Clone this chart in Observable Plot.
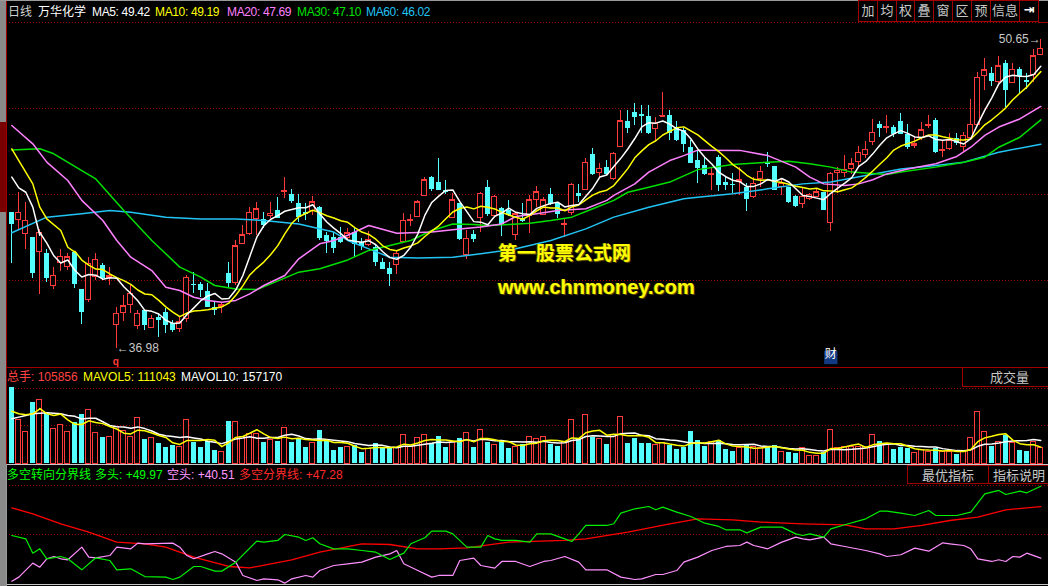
<!DOCTYPE html>
<html><head><meta charset="utf-8">
<script src="https://cdn.jsdelivr.net/npm/d3@7"></script>
<script src="https://cdn.jsdelivr.net/npm/@observablehq/plot@0.6"></script>
<style>
html,body{margin:0;padding:0;background:#000;overflow:hidden}
#wrap{position:relative;width:1048px;height:586px;background:#000;overflow:hidden;font-family:"Liberation Sans","Noto Sans CJK SC",sans-serif;font-size:12px}
#wrap svg{position:absolute;left:0}
.t{position:absolute;white-space:nowrap;line-height:14px;font-size:12px;font-family:"Liberation Sans","Noto Sans CJK SC",sans-serif}
.btn{position:absolute;border:1px solid #a00000;box-sizing:border-box;color:#c8c8c8;font-family:"Noto Sans CJK SC",sans-serif;font-size:13px;line-height:18px;text-align:center;white-space:nowrap;overflow:hidden}
.ln{position:absolute}
.wm{position:absolute;color:#ffff00;font-weight:bold;white-space:nowrap;text-shadow:1px 1px 0 #5a4a00,-1px 0 0 #5a4a00}
</style></head><body><div id="wrap"></div>
<script>
// ---------------- data ----------------
const openP = [42.99,42.68,42.06,41.91,41.25,41.18,39.76,40.77,40.59,41.24,
39.60,39.12,40.15,40.66,40.09,38.03,38.57,38.90,38.01,38.69,
37.91,38.38,38.59,38.11,37.85,38.29,39.84,39.84,39.53,38.82,
38.82,40.29,39.88,41.62,42.06,42.72,42.70,42.87,43.09,43.90,
43.80,43.39,43.02,43.09,43.24,41.99,41.91,41.91,41.87,42.14,
41.69,41.55,41.47,40.81,40.52,40.69,41.69,42.64,42.80,43.73,
44.54,44.32,43.98,42.77,43.39,41.11,42.03,42.77,44.12,42.87,
43.18,43.11,42.03,42.73,42.87,43.54,42.90,43.79,43.39,42.45,
43.00,43.86,44.01,45.55,44.76,44.98,44.49,45.92,47.03,47.42,
47.35,47.25,46.70,47.25,47.29,46.78,46.63,45.86,45.30,45.07,
44.68,45.45,44.32,44.26,44.35,44.11,43.68,44.49,45.23,45.04,
44.12,44.12,43.71,43.39,43.58,43.68,43.90,42.55,44.76,44.74,
44.91,45.23,45.55,46.11,46.89,46.75,46.75,47.03,46.44,45.95,
46.30,46.82,47.07,45.72,45.82,46.26,45.92,46.30,46.85,49.05,
49.16,48.77,49.60,48.72,49.31,48.84,49.10,49.97];
const highP = [42.99,43.87,43.43,41.91,42.25,41.37,40.59,41.37,41.21,41.24,
39.60,41.03,41.18,40.74,40.59,38.79,39.35,39.78,38.67,38.69,
38.45,38.53,38.75,38.23,38.38,40.22,40.37,39.93,39.85,39.04,
39.04,40.78,41.77,42.43,43.24,43.45,43.02,43.46,43.68,44.57,
44.02,43.79,43.39,43.71,43.27,42.14,42.14,42.36,42.28,42.28,
41.84,42.18,41.55,40.96,40.81,41.30,42.98,42.92,43.54,44.57,
44.60,45.38,44.42,43.83,43.39,42.21,42.21,43.90,44.42,43.76,
43.24,43.54,43.02,43.42,43.76,44.15,43.65,44.08,43.46,42.73,
44.27,44.24,45.38,45.82,45.16,45.30,45.67,47.51,47.51,47.81,
47.73,47.73,47.22,48.29,47.51,47.03,46.70,46.19,45.75,45.38,
45.01,45.52,44.57,44.71,45.01,44.30,44.57,45.04,45.64,45.04,
44.45,44.12,43.76,44.05,43.86,44.05,43.90,44.79,45.01,45.52,
45.38,45.92,46.16,47.10,47.03,47.29,46.85,47.37,46.89,46.36,
47.00,47.29,47.15,46.16,46.48,46.48,46.56,47.98,49.21,49.81,
49.43,49.90,49.72,49.60,49.40,49.13,50.19,50.65];
const lowP = [40.77,42.21,41.37,40.07,39.37,39.93,39.59,40.41,40.44,39.63,
38.04,39.01,40.00,40.00,39.76,36.98,38.20,38.53,37.82,37.80,
37.86,37.47,37.64,37.72,37.72,38.16,39.42,39.26,38.82,38.45,
38.53,39.63,39.78,41.62,41.99,41.99,42.28,42.72,42.72,43.64,
43.39,42.58,42.65,42.87,41.77,41.18,41.18,41.62,41.77,41.03,
41.33,41.50,40.62,40.52,39.74,40.25,41.69,42.40,42.77,43.71,
43.95,43.98,43.79,42.76,41.77,40.91,41.69,42.14,42.83,42.83,
41.96,42.83,41.77,42.58,42.06,43.24,42.87,43.31,42.73,41.92,
42.87,43.46,44.01,44.64,44.57,44.64,44.42,45.86,46.51,46.85,
46.48,46.44,46.19,47.22,46.19,46.16,45.67,45.23,44.30,44.64,
43.98,43.95,43.98,43.83,43.76,43.07,43.61,44.12,45.01,43.98,
43.76,43.39,43.24,43.17,43.54,43.65,43.14,42.18,43.83,44.57,
44.69,45.05,45.41,45.97,46.30,46.48,46.30,46.48,45.78,45.82,
46.19,46.70,45.63,45.45,45.75,45.97,45.72,46.26,46.81,48.40,
48.57,48.72,47.63,48.69,48.25,48.43,48.77,49.97];
const closeP = [42.53,42.99,42.65,40.37,42.11,40.12,40.22,41.05,41.03,39.85,
38.64,40.74,40.91,40.15,40.18,38.53,38.87,39.41,38.53,38.07,
38.31,38.28,38.04,37.82,38.16,40.12,39.81,39.62,38.87,38.72,
38.90,39.93,41.52,41.99,42.99,43.14,42.46,42.95,42.80,43.95,
43.54,42.84,42.95,43.46,41.91,41.77,41.47,41.74,42.09,41.62,
41.55,41.80,40.84,40.55,40.32,41.18,42.65,42.68,43.45,44.42,
44.05,44.04,43.95,43.54,41.84,41.84,41.84,43.83,42.98,43.71,
42.53,42.92,42.92,42.65,43.54,43.90,43.54,43.39,42.95,42.48,
44.23,43.76,45.21,44.71,44.94,44.71,45.60,47.03,46.78,47.25,
47.28,46.54,46.92,47.26,46.56,46.23,46.04,45.23,45.01,44.74,
44.71,44.24,44.23,44.23,44.42,43.64,44.27,44.80,45.19,44.01,
44.27,43.49,43.30,43.71,43.80,43.90,43.15,44.71,44.86,44.89,
45.13,45.64,45.78,46.54,46.78,46.78,46.51,46.51,45.92,46.01,
46.63,46.89,45.72,45.75,46.19,46.11,46.39,46.89,48.96,49.28,
48.84,49.46,48.44,49.31,49.06,48.81,49.90,50.24];
const volume = [501000,292000,207000,405000,418000,334000,231000,253000,213000,273000,
327000,352000,200000,174000,180000,242000,215000,174000,299000,160000,
167000,136000,108000,121000,108000,292000,143000,108000,147000,88000,
81000,279000,277000,176000,195000,198000,143000,154000,147000,238000,
143000,162000,108000,134000,220000,154000,88000,108000,108000,121000,
75000,99000,136000,108000,108000,103000,193000,108000,172000,193000,
132000,180000,108000,143000,167000,200000,108000,220000,143000,121000,
147000,101000,108000,127000,180000,165000,180000,127000,114000,143000,
290000,158000,319000,174000,165000,127000,193000,306000,134000,167000,
134000,134000,127000,134000,121000,94000,108000,213000,154000,114000,
141000,154000,94000,81000,101000,121000,114000,101000,114000,121000,
81000,75000,68000,101000,53000,53000,75000,220000,101000,108000,
108000,114000,108000,187000,147000,127000,94000,108000,101000,68000,
94000,81000,101000,81000,81000,61000,81000,167000,339000,207000,
114000,141000,187000,134000,88000,81000,141000,105856];

// moving-average lines (index, value)
const ma5LeadIdx = [0,1,2,3,4];
const ma5LeadVal = [44.57,44.09,43.90,43.24,42.0];
const ma10LeadIdx = [0,1,3,4,5,7,8,9];
const ma10LeadVal = [45.82,45.30,44.27,43.24,42.72,42.21,41.47,41.25];
const ma20Idx = [0,3,5,8,10,13,15,17,20,22,24,26,28,30,32,34,36,39,41,44,46,48,51,55,60,64,67,70,72,75,78,82,85,86,89,91,94,96,98,104,108,112,114,116,119,121,123,125,128,132,135,137,139,141,144,147];
const ma20Val = [46.85,46.04,45.23,44.42,43.54,42.65,41.77,41.03,40.44,39.70,39.56,39.26,39.12,39.04,39.12,39.41,39.78,40.22,40.96,41.62,41.77,42.00,42.43,42.09,42.14,42.28,42.36,42.50,42.83,42.95,43.09,43.17,43.54,43.76,44.27,44.79,45.30,45.52,45.76,45.75,45.52,45.01,44.57,44.27,44.20,44.27,44.45,44.71,44.93,45.16,45.48,45.89,46.41,46.78,47.14,47.69];
const ma30Idx = [0,4,6,10,12,16,20,24,27,29,32,35,37,41,44,48,51,54,57,60,63,66,68,71,74,77,80,83,86,88,91,94,98,103,108,111,114,117,120,125,127,132,136,139,141,144,147];
const ma30Val = [45.77,45.82,45.60,44.86,44.49,43.09,41.77,40.59,40.15,39.78,39.62,39.60,39.85,40.37,40.52,40.91,41.33,41.55,41.77,42.21,42.50,42.47,42.43,42.47,42.53,42.65,42.80,43.17,43.54,43.90,44.12,44.35,44.90,45.13,45.23,45.27,45.16,45.01,44.79,44.68,44.79,45.01,45.23,45.45,45.89,46.33,47.10];
const ma60Idx = [0,5,10,14,17,22,27,32,36,41,46,48,51,54,58,63,67,72,77,82,86,91,96,98,103,108,113,117,122,127,132,136,141,147];
const ma60Val = [42.11,42.80,42.95,43.09,43.02,42.80,42.72,42.72,42.65,42.50,42.14,41.77,41.40,41.03,40.99,41.03,41.18,41.40,41.77,42.28,42.80,43.24,43.61,43.68,43.83,44.05,44.27,44.35,44.64,44.93,45.08,45.23,45.67,46.02];
const mavol5LeadIdx = [0,1,2,3,4];
const mavol5LeadVal = [347000,330000,324000,330000,363000];
const mavol10LeadIdx = [0,1,2,3,4,5,6,7,8,9];
const mavol10LeadVal = [297000,308000,319000,330000,334000,337000,334000,330000,319000,314000];

// 多空转向分界线 indicator
const bullIdx = [0,2,3,4,5,7,8,10,12,14,15,17,19,22,23,24,26,27,29,30,32,35,36,38,39,41,42,43,44,46,48,50,52,54,56,57,59,60,62,63,65,67,68,69,70,72,74,75,77,79,80,81,82,85,86,87,89,91,92,93,95,97,99,101,102,104,105,107,110,112,113,114,116,117,119,122,124,125,127,129,131,132,135,137,139,141,142,144,145,147];
const bullVal = [43.49,43.05,41.17,41.74,40.43,40.73,40.43,38.98,40.56,40.21,38.98,39.11,38.10,38.02,37.71,38.02,39.42,39.42,38.81,38.81,39.99,42.75,42.62,42.84,43.62,43.27,42.84,43.19,42.40,41.74,41.74,41.52,41.30,40.34,41.17,42.40,43.19,44.06,44.06,43.71,41.96,41.96,43.49,43.05,42.84,42.84,42.62,43.71,43.71,43.05,42.70,43.71,44.81,44.81,45.03,46.43,47.00,47.30,46.87,47.22,46.56,45.99,45.11,44.68,44.24,44.24,43.84,44.59,44.59,43.71,43.49,43.71,43.27,44.37,44.90,45.68,46.69,46.69,46.43,46.12,46.78,46.12,46.12,46.56,48.97,49.41,48.88,49.32,49.10,49.97];
const bearIdx = [0,1,3,4,5,6,7,8,10,11,12,14,15,17,18,19,23,24,25,26,28,29,30,32,33,35,36,38,39,40,42,43,44,46,48,50,52,54,55,56,58,60,61,63,64,66,67,69,70,72,74,76,77,79,81,82,85,87,89,90,92,93,95,96,98,100,102,104,105,106,108,110,112,113,114,116,117,119,122,124,125,127,129,131,133,134,136,137,138,140,141,142,143,144,145,147];
const bearVal = [37.49,38.02,39.86,39.33,40.43,40.73,40.43,40.30,41.96,40.65,40.56,40.86,41.96,41.74,42.49,42.40,42.49,41.96,40.86,40.43,41.08,41.39,41.08,39.99,38.24,37.58,37.80,37.67,37.23,37.80,38.24,38.02,38.89,39.55,39.77,39.99,40.65,41.08,41.52,39.77,38.89,38.02,38.24,38.24,40.21,40.51,39.55,39.20,40.08,40.08,39.42,40.08,40.21,40.73,39.99,38.98,38.98,38.02,37.71,37.80,38.37,38.37,38.89,39.99,40.65,41.52,42.05,42.18,42.62,42.18,41.74,42.62,43.27,43.05,42.92,43.27,42.40,42.05,41.52,41.08,40.73,40.96,41.83,41.43,42.53,42.40,42.18,41.74,40.43,40.08,40.30,40.08,40.73,40.65,41.17,40.51];
const divIdx = [0,3,7,11,15,19,22,26,31,34,37,40,44,50,54,58,61,65,71,79,82,88,94,98,103,107,113,119,122,126,130,134,138,142,147];
const divVal = [47.13,46.34,45.03,43.93,42.62,42.40,41.96,40.65,39.42,39.24,39.77,40.30,41.30,42.40,42.31,41.74,41.74,41.87,42.62,42.84,43.05,43.93,45.03,45.68,45.55,45.25,45.03,44.90,44.37,44.37,44.81,45.46,45.90,46.87,47.28];

// grid values and labels
const priceGrid = [40.0, 43.8, 47.6, 51.4];
const volGrid = [250000, 500000];
const indGrid = [43.6, 50.0];
const headLabels = ["日线","万华化学","MA5: 49.42","MA10: 49.19","MA20: 47.69","MA30: 47.10","MA60: 46.02"];
const volLabels = ["总手: 105856","MAVOL5: 111043","MAVOL10: 157170"];
const indLabels = ["多空转向分界线","多头: +49.97","空头: +40.51","多空分界线: +47.28"];
const topButtons = ["加","均","权","叠","窗","区","预","信息","⇥"];
const lowMark = {i: 15, p: 36.98, t: "←36.98"};
const highMark = {i: 147, p: 50.65, t: "50.65→"};
const finMark = {i: 117, t: "财"};

// ---------------- build ----------------
const RED = "#ff3a3a", CYAN = "#54ffff", GRID = "#a00000";
const C = { ma5:"#ffffff", ma10:"#ffff00", ma20:"#ff80ff", ma30:"#00e000", ma60:"#22c4f4" };
const N = closeP.length;
const candles = d3.range(N).map(i => ({i, o: openP[i], h: highP[i], l: lowP[i], c: closeP[i], v: volume[i], up: closeP[i] >= openP[i]}));
const upC = candles.filter(d => d.up), dnC = candles.filter(d => !d.up);
const pairs = (I, V) => I.map((i, k) => ({i, v: V[k]}));
const xDomain = [-11.3 / 7, (1048 - 11.3) / 7];
const HW = 0.33;
const strictMean = k => (vals) => vals.length < k ? NaN : d3.mean(vals);
const wrap = document.getElementById("wrap");
const baseStyle = {background: "transparent", overflow: "visible"};
const dotted = {stroke: GRID, strokeDasharray: "1,2", shapeRendering: "crispEdges"};

const candleMarks = [
  Plot.ruleX(upC, {x: "i", y1: "l", y2: "h", stroke: RED, shapeRendering: "crispEdges"}),
  Plot.ruleX(dnC, {x: "i", y1: "l", y2: "h", stroke: CYAN, shapeRendering: "crispEdges"}),
  Plot.rect(dnC, {x1: d => d.i - HW, x2: d => d.i + HW, y1: "o", y2: "c", fill: CYAN, shapeRendering: "crispEdges"}),
  Plot.rect(upC, {x1: d => d.i - HW, x2: d => d.i + HW, y1: "o", y2: "c", fill: "#000", stroke: RED, shapeRendering: "crispEdges"}),
  Plot.ruleY(upC, {y: "c", x1: d => d.i - HW, x2: d => d.i + HW, stroke: RED, shapeRendering: "crispEdges"}),
  Plot.ruleY(dnC, {y: "c", x1: d => d.i - HW, x2: d => d.i + HW, stroke: CYAN, shapeRendering: "crispEdges"})
];

const pricePlot = Plot.plot({
  width: 1048, height: 367, margin: 0,
  x: {type: "linear", domain: xDomain, axis: null},
  y: {type: "linear", domain: [36.156, 52.373], axis: null},
  style: baseStyle,
  marks: [
    Plot.ruleY(priceGrid, dotted),
    ...candleMarks,
    Plot.line(pairs(ma60Idx, ma60Val), {x: "i", y: "v", stroke: C.ma60}),
    Plot.line(pairs(ma30Idx, ma30Val), {x: "i", y: "v", stroke: C.ma30}),
    Plot.line(pairs(ma20Idx, ma20Val), {x: "i", y: "v", stroke: C.ma20}),
    Plot.lineY(candles, Plot.windowY({k: 10, anchor: "end", reduce: strictMean(10)}, {x: "i", y: "c", stroke: C.ma10})),
    Plot.line(pairs(ma10LeadIdx, ma10LeadVal), {x: "i", y: "v", stroke: C.ma10}),
    Plot.lineY(candles, Plot.windowY({k: 5, anchor: "end", reduce: strictMean(5)}, {x: "i", y: "c", stroke: C.ma5})),
    Plot.line(pairs(ma5LeadIdx, ma5LeadVal), {x: "i", y: "v", stroke: C.ma5}),
    Plot.text([lowMark], {x: "i", y: "p", text: "t", textAnchor: "start", dy: -1, fill: "#c8c8c8", fontSize: 12, fontFamily: "Liberation Sans"}),
    Plot.text([highMark], {x: "i", y: "p", text: "t", textAnchor: "end", fill: "#c8c8c8", fontSize: 12, fontFamily: "Liberation Sans"}),
    Plot.text([lowMark], {x: "i", y: "p", text: () => "q", dy: 13, dx: -1, fill: RED, fontSize: 10, fontWeight: "bold", fontFamily: "Liberation Sans"}),
    Plot.dot([finMark], {x: "i", frameAnchor: "bottom", dy: -10, symbol: "square", r: 7.5, fill: "#123a82"}),
    Plot.text([finMark], {x: "i", frameAnchor: "bottom", dy: -10, text: "t", fill: "#fff", fontSize: 12, fontFamily: "Noto Sans CJK SC"})
  ]
});
pricePlot.style.top = "0px";
wrap.appendChild(pricePlot);

const volPlot = Plot.plot({
  width: 1048, height: 97, margin: 0,
  x: {type: "linear", domain: xDomain, axis: null},
  y: {type: "linear", domain: [-4620, 635580], axis: null},
  style: baseStyle,
  marks: [
    Plot.ruleY(volGrid, dotted),
    Plot.rect(dnC, {x1: d => d.i - HW, x2: d => d.i + HW, y1: () => 0, y2: "v", fill: CYAN, shapeRendering: "crispEdges"}),
    Plot.rect(upC, {x1: d => d.i - HW, x2: d => d.i + HW, y1: () => 0, y2: "v", fill: "#000", stroke: RED, shapeRendering: "crispEdges"}),
    Plot.lineY(candles, Plot.windowY({k: 10, anchor: "end", reduce: strictMean(10)}, {x: "i", y: "v", stroke: "#ffffff"})),
    Plot.line(pairs(mavol10LeadIdx, mavol10LeadVal), {x: "i", y: "v", stroke: "#ffffff"}),
    Plot.lineY(candles, Plot.windowY({k: 5, anchor: "end", reduce: strictMean(5)}, {x: "i", y: "v", stroke: "#ffff00"})),
    Plot.line(pairs(mavol5LeadIdx, mavol5LeadVal), {x: "i", y: "v", stroke: "#ffff00"})
  ]
});
volPlot.style.top = "367px";
wrap.appendChild(volPlot);

const indPlot = Plot.plot({
  width: 1048, height: 122, margin: 0,
  x: {type: "linear", domain: xDomain, axis: null},
  y: {type: "linear", domain: [36.79, 52.82], axis: null},
  style: baseStyle,
  marks: [
    Plot.ruleY(indGrid, dotted),
    Plot.line(pairs(divIdx, divVal), {x: "i", y: "v", stroke: "#ff0000", strokeWidth: 1.3}),
    Plot.line(pairs(bearIdx, bearVal), {x: "i", y: "v", stroke: "#ff90ff", strokeWidth: 1.2}),
    Plot.line(pairs(bullIdx, bullVal), {x: "i", y: "v", stroke: "#00f000", strokeWidth: 1.2})
  ]
});
indPlot.style.top = "464px";
wrap.appendChild(indPlot);

// ---------------- frame & text ----------------
function box(l, t, w, h, bg, extra) {
  const d = document.createElement("div"); d.className = "ln";
  Object.assign(d.style, {left: l + "px", top: t + "px", width: w + "px", height: h + "px", background: bg}, extra || {});
  wrap.appendChild(d); return d;
}
function txt(l, t, s, color, extra) {
  const d = document.createElement("div"); d.className = "t"; d.textContent = s;
  Object.assign(d.style, {left: l + "px", top: t + "px", color}, extra || {});
  wrap.appendChild(d); return d;
}
// left strip
box(0, 0, 6, 586, "#8a8a8a");
box(0, 122, 6, 90, "#7a0000");
box(6, 0, 1, 464, "#a00000");
box(6, 464, 1, 122, "#9a9a9a");
// separators
box(0, 0, 1048, 1, "#9a9a9a");
box(7, 367, 1041, 1, "#a00000");
box(7, 464, 1041, 1, "#c8c8c8");
box(7, 584, 1041, 1, "#c8c8c8");

// header
const headX = [8, 38, 92, 155, 227, 297, 366];
const headC = ["#d0d0d0", "#ffffff", "#ffffff", "#ffff00", "#ff80ff", "#00e000", "#22c4f4"];
headLabels.forEach((s, k) => txt(headX[k], 5, s, headC[k], k >= 2 ? {letterSpacing: "-0.35px"} : {}));
const btnX = [858, 877, 896, 914, 933, 952, 971, 990, 1019, 1038];
topButtons.forEach((s, k) => {
  const b = document.createElement("div"); b.className = "btn"; b.textContent = s;
  Object.assign(b.style, {left: btnX[k] + "px", top: "0px", width: (btnX[k + 1] - btnX[k] + 1) + "px", height: "22px"});
  if (s === "⇥") Object.assign(b.style, {color: "#fff", fontFamily: "DejaVu Sans", fontWeight: "bold"});
  wrap.appendChild(b);
});
box(1038, 0, 10, 22, "transparent", {borderLeft: "1px solid #a00000", borderBottom: "1px solid #a00000"});

// volume header
const volX = [7, 83, 181];
const volC = ["#ff4444", "#ffff00", "#ffffff"];
volLabels.forEach((s, k) => txt(volX[k], 370, s, volC[k]));
const vb = document.createElement("div"); vb.className = "btn"; vb.textContent = "成交量";
Object.assign(vb.style, {left: "962px", top: "367px", width: "100px", height: "20px", textAlign: "left", paddingLeft: "27px"});
wrap.appendChild(vb);

// indicator header
const indX = [7, 95, 167, 239];
const indC = ["#00ff00", "#00ff00", "#ff99ff", "#ff2a2a"];
indLabels.forEach((s, k) => txt(indX[k], 468, s, indC[k]));
const b1 = document.createElement("div"); b1.className = "btn"; b1.textContent = "最优指标";
Object.assign(b1.style, {left: "907px", top: "465px", width: "82px", height: "19px"});
wrap.appendChild(b1);
const b2 = document.createElement("div"); b2.className = "btn"; b2.textContent = "指标说明";
Object.assign(b2.style, {left: "988px", top: "465px", width: "70px", height: "19px", textAlign: "left", paddingLeft: "4px"});
wrap.appendChild(b2);

// watermark
const w1 = document.createElement("div"); w1.className = "wm"; w1.textContent = "第一股票公式网";
Object.assign(w1.style, {left: "498px", top: "239px", fontSize: "19px", fontFamily: "Noto Sans CJK SC", lineHeight: "26px"});
wrap.appendChild(w1);
const w2 = document.createElement("div"); w2.className = "wm"; w2.textContent = "www.chnmoney.com";
Object.assign(w2.style, {left: "498px", top: "274px", fontSize: "20px", fontFamily: "Liberation Sans", lineHeight: "26px"});
wrap.appendChild(w2);
</script></body></html>
